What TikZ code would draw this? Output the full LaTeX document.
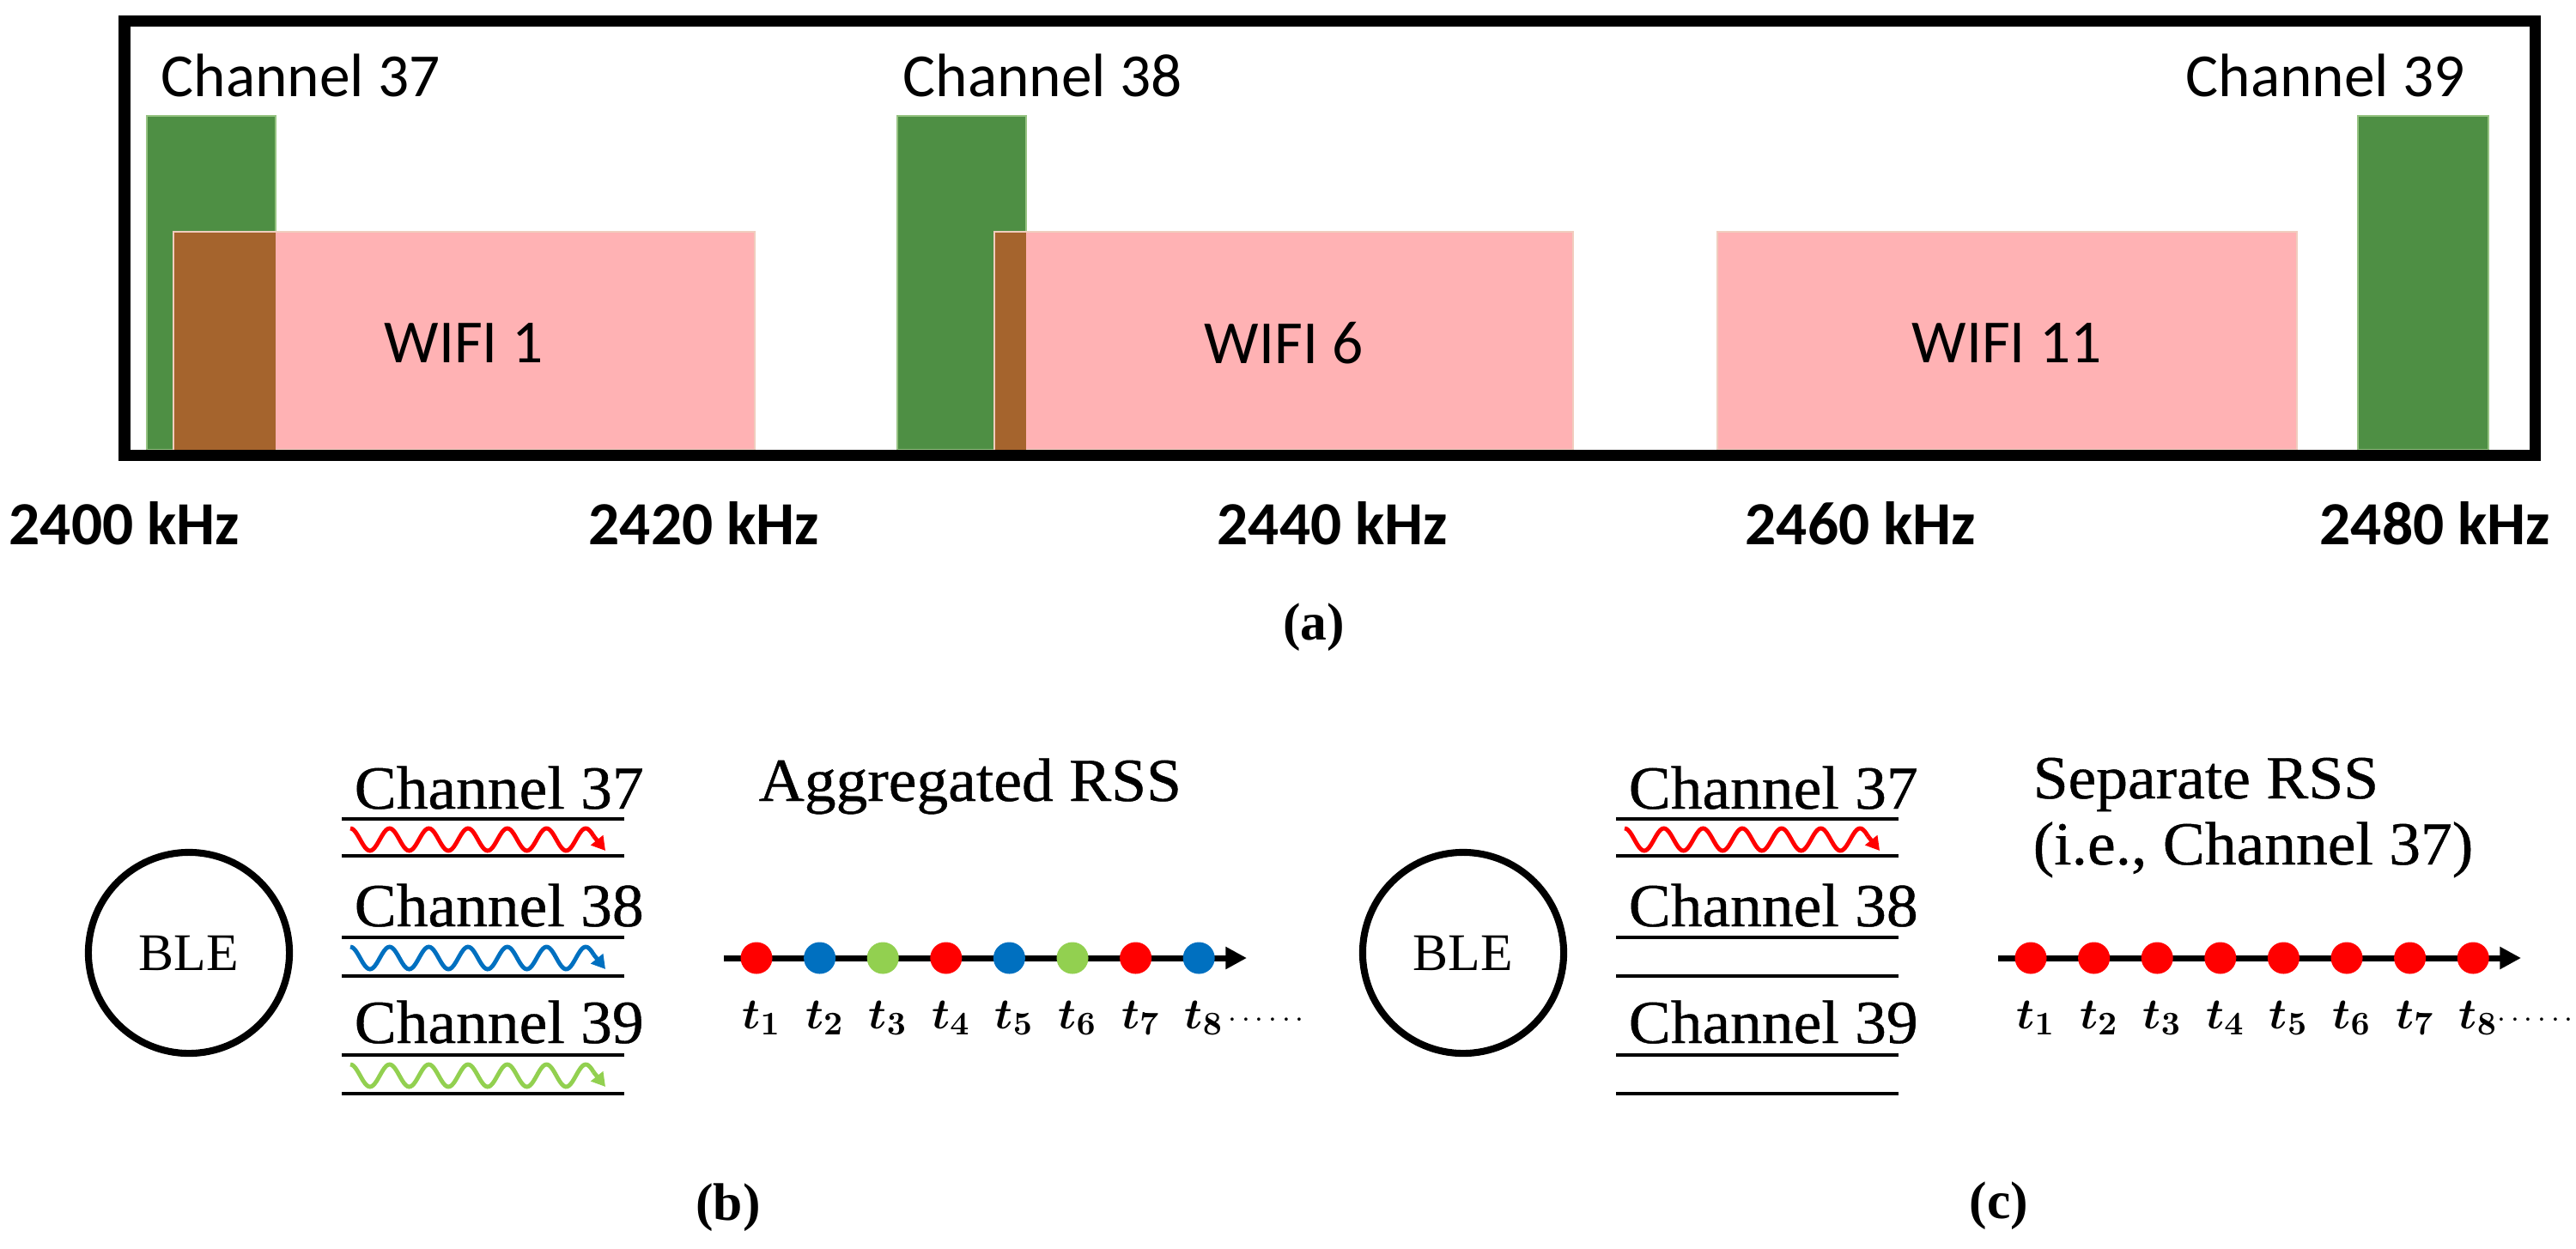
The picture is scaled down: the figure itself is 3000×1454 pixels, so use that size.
\documentclass[tikz,border=0pt]{standalone}
\usepackage{fontspec}
\setmainfont{Liberation Serif}
\newfontfamily\calfont{Carlito}
\newfontfamily\widefont{Liberation Serif}[FakeStretch=1.03,FakeBold=0.6]
\usetikzlibrary{arrows.meta}
\definecolor{bandgreen}{RGB}{78,143,68}
\definecolor{bandedge}{RGB}{150,195,130}
\definecolor{wifipink}{RGB}{255,178,180}
\definecolor{wifiedge}{RGB}{240,205,190}
\definecolor{overlapbrown}{RGB}{165,100,45}
\definecolor{rssred}{RGB}{255,0,0}
\definecolor{rssblue}{RGB}{0,112,192}
\definecolor{rssgreen}{RGB}{146,208,80}
\begin{document}
\begin{tikzpicture}[x=0.01cm,y=-0.01cm,
  chanbar/.style={fill=bandgreen,draw=bandedge,line width=0.6pt},
  wifiband/.style={fill=wifipink,draw=wifiedge,line width=0.6pt},
  overlap/.style={fill=overlapbrown},
  toplabel/.style={font=\calfont\fontsize{20.3}{24}\selectfont,inner sep=0pt},
  freqlabel/.style={font=\calfont\bfseries\fontsize{20.3}{24}\selectfont,inner sep=0pt,anchor=base},
  blenode/.style={circle,draw,line width=2.3pt,minimum size=2.34cm,inner sep=0pt,font=\fontsize{17.5}{21}\selectfont},
  chanlabel/.style={font=\widefont\fontsize{20.3}{24}\selectfont,inner sep=0pt,anchor=base west},
  chanline/.style={line width=1.15pt},
  wave/.style={line width=1.4pt},
  wavetip/.style={line width=1.4pt,-{Triangle[length=4.5pt,width=5pt]}},
  timeline/.style={line width=2pt,-{Triangle[length=7pt,width=7pt]}},
  rssdot/.style={circle,inner sep=0pt,minimum size=0.37cm},
  tlabel/.style={font=\boldmath\fontsize{15}{17}\selectfont,inner sep=0pt,anchor=base},
  morelabel/.style={font=\fontsize{10}{12}\selectfont,inner sep=0pt,anchor=base west},
  caption/.style={font=\bfseries\fontsize{17.5}{21}\selectfont,inner sep=0pt}]
\useasboundingbox (0,0) rectangle (3000,1454);
\draw[chanbar] (171,135) rectangle (321,524);
\draw[chanbar] (1045,135) rectangle (1195,524);
\draw[chanbar] (2746,135) rectangle (2898,524);
\draw[wifiband] (202,270) rectangle (879,524);
\draw[wifiband] (1158,270) rectangle (1832,524);
\draw[wifiband] (2000,270) rectangle (2675,524);
\fill[overlap] (203,271) rectangle (321,524);
\fill[overlap] (1159,271) rectangle (1195,524);
\draw[line width=3.7pt] (145,24.5) rectangle (2952,530);
\node[toplabel,anchor=base west] (ch37) at (187,112) {Channel 37};
\node[toplabel,anchor=base west] (ch38) at (1051,112) {Channel 38};
\node[toplabel,anchor=base west] (ch39) at (2545,112) {Channel 39};
\node[toplabel] (wifi1) at (540,400) {WIFI 1};
\node[toplabel] (wifi6) at (1495,400) {WIFI 6};
\node[toplabel] (wifi11) at (2337,400) {WIFI 11};
\node[freqlabel] (f2400) at (145,634) {2400 kHz};
\node[freqlabel] (f2420) at (820,634) {2420 kHz};
\node[freqlabel] (f2440) at (1552,634) {2440 kHz};
\node[freqlabel] (f2460) at (2167,634) {2460 kHz};
\node[freqlabel] (f2480) at (2836,634) {2480 kHz};
\node[caption] (capa) at (1530,731) {(a)};
\node[blenode] (bleb) at (220,1110) {BLE};
\node[chanlabel] (b37) at (412,942) {Channel 37};
\node[chanlabel] (b38) at (412,1079) {Channel 38};
\node[chanlabel] (b39) at (412,1215) {Channel 39};
\draw[chanline] (398,954) -- (727,954);
\draw[chanline] (398,997) -- (727,997);
\draw[chanline] (398,1092) -- (727,1092);
\draw[chanline] (398,1137) -- (727,1137);
\draw[chanline] (398,1229) -- (727,1229);
\draw[chanline] (398,1274) -- (727,1274);
\draw[wave,rssred] plot[domain=0:6.2,samples=150] ({408+45.7*\x},{978-13*cos(360*\x)});
\draw[wavetip,rssred] ({408+45.7*6.2},{978-13*cos(2232)}) -- ({408+45.7*6.5},{978-13*cos(2340)});
\draw[wave,rssblue] plot[domain=0:6.2,samples=150] ({408+45.7*\x},{1116-13*cos(360*\x)});
\draw[wavetip,rssblue] ({408+45.7*6.2},{1116-13*cos(2232)}) -- ({408+45.7*6.5},{1116-13*cos(2340)});
\draw[wave,rssgreen] plot[domain=0:6.2,samples=150] ({408+45.7*\x},{1253-13*cos(360*\x)});
\draw[wavetip,rssgreen] ({408+45.7*6.2},{1253-13*cos(2232)}) -- ({408+45.7*6.5},{1253-13*cos(2340)});
\node[chanlabel] (aggr) at (883,933) {Aggregated RSS};
\coordinate (tbstart) at (843,1116);
\coordinate (tbend) at (1452,1116);
\draw[timeline] (tbstart) -- (tbend);
\node[rssdot,fill=rssred] (b1) at (881,1116) {};
\node[rssdot,fill=rssblue] (b2) at (954.6,1116) {};
\node[rssdot,fill=rssgreen] (b3) at (1028.2,1116) {};
\node[rssdot,fill=rssred] (b4) at (1101.8,1116) {};
\node[rssdot,fill=rssblue] (b5) at (1175.4,1116) {};
\node[rssdot,fill=rssgreen] (b6) at (1249,1116) {};
\node[rssdot,fill=rssred] (b7) at (1322.6,1116) {};
\node[rssdot,fill=rssblue] (b8) at (1396.2,1116) {};
\node[tlabel] (bt1) at (887,1198) {$t_1$};
\node[tlabel] (bt2) at (960.6,1198) {$t_2$};
\node[tlabel] (bt3) at (1034.2,1198) {$t_3$};
\node[tlabel] (bt4) at (1107.8,1198) {$t_4$};
\node[tlabel] (bt5) at (1181.4,1198) {$t_5$};
\node[tlabel] (bt6) at (1255,1198) {$t_6$};
\node[tlabel] (bt7) at (1328.6,1198) {$t_7$};
\node[tlabel] (bt8) at (1402.2,1198) {$t_8$};
\node[morelabel] (bmore) at (1430,1196) {$\cdots\cdots$};
\node[caption] (capb) at (848,1407) {(b)};
\node[blenode] (blec) at (1704,1110) {BLE};
\node[chanlabel] (c37) at (1896,942) {Channel 37};
\node[chanlabel] (c38) at (1896,1079) {Channel 38};
\node[chanlabel] (c39) at (1896,1215) {Channel 39};
\draw[chanline] (1882,954) -- (2211,954);
\draw[chanline] (1882,997) -- (2211,997);
\draw[chanline] (1882,1092) -- (2211,1092);
\draw[chanline] (1882,1137) -- (2211,1137);
\draw[chanline] (1882,1229) -- (2211,1229);
\draw[chanline] (1882,1274) -- (2211,1274);
\draw[wave,rssred] plot[domain=0:6.2,samples=150] ({1892+45.7*\x},{978-13*cos(360*\x)});
\draw[wavetip,rssred] ({1892+45.7*6.2},{978-13*cos(2232)}) -- ({1892+45.7*6.5},{978-13*cos(2340)});
\node[chanlabel] (sepa) at (2367,930) {Separate RSS};
\node[chanlabel] (sepb) at (2367,1007) {(i.e., Channel 37)};
\coordinate (tcstart) at (2327,1116);
\coordinate (tcend) at (2936,1116);
\draw[timeline] (tcstart) -- (tcend);
\node[rssdot,fill=rssred] (c1) at (2365,1116) {};
\node[rssdot,fill=rssred] (c2) at (2438.6,1116) {};
\node[rssdot,fill=rssred] (c3) at (2512.2,1116) {};
\node[rssdot,fill=rssred] (c4) at (2585.8,1116) {};
\node[rssdot,fill=rssred] (c5) at (2659.4,1116) {};
\node[rssdot,fill=rssred] (c6) at (2733,1116) {};
\node[rssdot,fill=rssred] (c7) at (2806.6,1116) {};
\node[rssdot,fill=rssred] (c8) at (2880.2,1116) {};
\node[tlabel] (ct1) at (2371,1198) {$t_1$};
\node[tlabel] (ct2) at (2444.6,1198) {$t_2$};
\node[tlabel] (ct3) at (2518.2,1198) {$t_3$};
\node[tlabel] (ct4) at (2591.8,1198) {$t_4$};
\node[tlabel] (ct5) at (2665.4,1198) {$t_5$};
\node[tlabel] (ct6) at (2739,1198) {$t_6$};
\node[tlabel] (ct7) at (2812.6,1198) {$t_7$};
\node[tlabel] (ct8) at (2886.2,1198) {$t_8$};
\node[morelabel] (cmore) at (2908,1196) {$\cdots\cdots$};
\node[caption] (capc) at (2328,1405) {(c)};
\end{tikzpicture}
\end{document}
